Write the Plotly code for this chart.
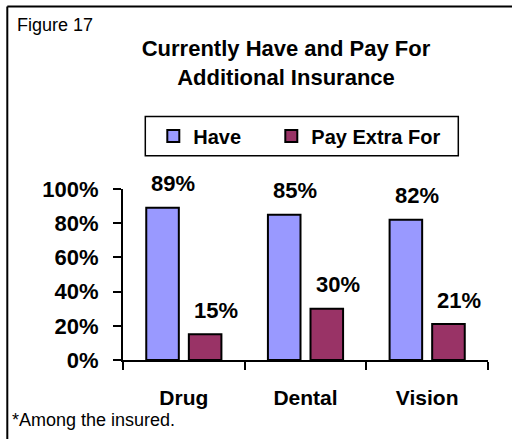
import plotly.graph_objects as go

# Survey results: share who have / pay extra for each kind of coverage
categories = ["Drug", "Dental", "Vision"]
have = [89, 85, 82]
pay_extra = [15, 30, 21]
series_names = ["Have", "Pay Extra For"]
y_ticks = [0, 20, 40, 60, 80, 100]
y_tick_labels = ["0%", "20%", "40%", "60%", "80%", "100%"]

W, H = 512, 439
# plot area in pixels
L, R, T, B = 122.7, 487.7, 189.3, 360.0

FONT = "Liberation Sans, Arial, sans-serif"
HAVE_COLOR = "#9999FF"
PAY_COLOR = "#993366"


def px_x(px):
    return (px - L) / (R - L)


def px_y(py):
    return (B - py) / (B - T)


fig = go.Figure()
fig.add_trace(go.Bar(
    name=series_names[0], x=categories, y=have, legend="legend",
    marker=dict(color=HAVE_COLOR, line=dict(color="black", width=2)),
))
fig.add_trace(go.Bar(
    name=series_names[1], x=categories, y=pay_extra, legend="legend2",
    marker=dict(color=PAY_COLOR, line=dict(color="black", width=2)),
))

annotations = []
# value labels above each bar
for vals, shift in ((have, -10.5), (pay_extra, 32)):
    for c, v in zip(categories, vals):
        annotations.append(dict(
            x=c, y=v, xref="x", yref="y", text=f"<b>{v}%</b>", showarrow=False,
            xshift=shift, yshift=24, yanchor="middle", xanchor="center",
            font=dict(family=FONT, size=22, color="black"),
        ))

annotations.append(dict(
    x=px_x(15), y=px_y(26), xref="paper", yref="paper", text="Figure 17",
    showarrow=False, xanchor="left", yanchor="middle",
    font=dict(family=FONT, size=18, color="black"),
))
annotations.append(dict(
    x=px_x(10), y=px_y(420), xref="paper", yref="paper", text="*Among the insured.",
    showarrow=False, xanchor="left", yanchor="middle",
    font=dict(family=FONT, size=18, color="black"),
))

shapes = [
    # frame lines: top and left edges
    dict(type="line", xref="paper", yref="paper",
         x0=px_x(7), x1=px_x(512), y0=px_y(7), y1=px_y(7),
         line=dict(color="black", width=2)),
    dict(type="line", xref="paper", yref="paper",
         x0=px_x(7), x1=px_x(7), y0=px_y(7), y1=px_y(439),
         line=dict(color="black", width=2)),
    # box around the two legend entries
    dict(type="rect", xref="paper", yref="paper",
         x0=px_x(145), x1=px_x(458), y0=px_y(117), y1=px_y(156),
         line=dict(color="black", width=1.5), fillcolor="white", layer="below"),
]

legend_common = dict(
    orientation="h", xanchor="left", yanchor="middle",
    xref="paper", yref="paper", borderwidth=0, bgcolor="rgba(0,0,0,0)",
    font=dict(family=FONT, size=20, color="black", weight="bold"),
)

fig.update_layout(
    width=W, height=H,
    margin=dict(l=L, r=W - R, t=T, b=H - B, pad=0),
    paper_bgcolor="white", plot_bgcolor="white",
    barmode="group", bargap=0.30, bargroupgap=0.235,
    title=dict(
        text="<b>Currently Have and Pay For<br>Additional Insurance</b>",
        x=286 / W, xanchor="center", xref="container",
        y=1 - 56 / H, yanchor="top", yref="container",
        font=dict(family=FONT, size=22, color="black"),
    ),
    legend=dict(x=px_x(153), y=px_y(136.5), **legend_common),
    legend2=dict(x=px_x(271), y=px_y(136.5), **legend_common),
    xaxis=dict(
        showline=True, linecolor="black", linewidth=2,
        ticks="outside", ticklen=8, tickcolor="black", tickwidth=2,
        tickson="boundaries", ticklabelstandoff=18,
        tickfont=dict(family=FONT, size=21, color="black", weight="bold"),
        showgrid=False, zeroline=False,
    ),
    yaxis=dict(
        range=[0, 100], tickvals=y_ticks, ticktext=y_tick_labels,
        showline=True, linecolor="black", linewidth=2,
        ticks="outside", ticklen=8, tickcolor="black", tickwidth=2,
        ticklabelstandoff=10,
        tickfont=dict(family=FONT, size=22, color="black", weight="bold"),
        showgrid=False, zeroline=False,
    ),
    annotations=annotations,
    shapes=shapes,
    showlegend=True,
)

fig.write_html("out.html")
